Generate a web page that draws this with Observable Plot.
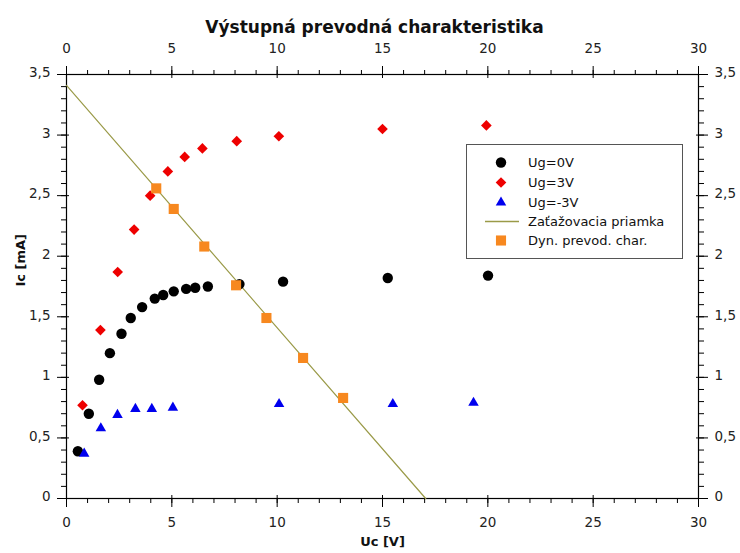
<!DOCTYPE html>
<html>
<head>
<meta charset="utf-8">
<script src="https://cdn.jsdelivr.net/npm/d3@7"></script>
<script src="https://cdn.jsdelivr.net/npm/@observablehq/plot@0.6"></script>
<style>
  html, body { margin: 0; padding: 0; background: #fff; }
  #wrap { position: relative; width: 740px; height: 553px; font-family: "DejaVu Sans", sans-serif; }
  #legend { position: absolute; left: 466px; top: 144px; width: 217px; height: 115px; box-sizing: border-box;
            border: 1px solid #555; background: #fff; }
</style>
</head>
<body>
<div id="wrap"></div>
<script>
// ---- data ----
const titleText = "Výstupná prevodná charakteristika";
const xLabel = "Uc [V]";
const yLabel = "Ic [mA]";

const ug0Uc = [0.54, 1.06, 1.55, 2.06, 2.61, 3.05, 3.59, 4.19, 4.59, 5.09, 5.68, 6.11, 6.71, 8.21, 10.28, 15.25, 20.01];
const ug0Ic = [0.39, 0.70, 0.98, 1.20, 1.36, 1.49, 1.58, 1.65, 1.68, 1.71, 1.73, 1.74, 1.75, 1.77, 1.79, 1.82, 1.84];

const ug3Uc = [0.76, 1.61, 2.43, 3.21, 3.97, 4.81, 5.61, 6.45, 8.08, 10.08, 15.0, 19.93];
const ug3Ic = [0.77, 1.39, 1.87, 2.22, 2.50, 2.70, 2.82, 2.89, 2.95, 2.99, 3.05, 3.08];

const ugm3Uc = [0.84, 1.63, 2.42, 3.27, 4.05, 5.05, 10.09, 15.49, 19.32];
const ugm3Ic = [0.37, 0.58, 0.69, 0.74, 0.74, 0.75, 0.78, 0.78, 0.79];

const loadUc = [0, 17.05];
const loadIc = [3.41, 0];

const dynUc = [4.26, 5.09, 6.54, 8.05, 9.49, 11.23, 13.13];
const dynIc = [2.56, 2.39, 2.08, 1.76, 1.49, 1.16, 0.83];

const seriesNames = ["Ug=0V", "Ug=3V", "Ug=-3V", "Zaťažovacia priamka", "Dyn. prevod. char."];

const xMajor = [0, 5, 10, 15, 20, 25, 30];
const xMinor = d3.range(0, 31);
const yMajor = [0, 0.5, 1, 1.5, 2, 2.5, 3, 3.5];
const yMinor = d3.range(0, 36).map(i => i / 10);

// ---- styles ----
const colBlack = "#000000", colRed = "#ee0000", colBlue = "#0000ee", colOlive = "#9a9a48", colOrange = "#f7881f";
const fmt = d => String(d).replace(".", ",");
const zip = (xs, ys) => xs.map((x, i) => ({uc: x, ic: ys[i]}));

const ug0 = zip(ug0Uc, ug0Ic), ug3 = zip(ug3Uc, ug3Ic), ugm3 = zip(ugm3Uc, ugm3Ic);
const load = zip(loadUc, loadIc), dyn = zip(dynUc, dynIc);

const labelFill = "#222";
const chart = Plot.plot({
  width: 740, height: 553,
  marginLeft: 66, marginRight: 42, marginTop: 74, marginBottom: 55,
  style: {fontFamily: "DejaVu Sans, sans-serif", fontSize: "13px", color: "#000", background: "#fff"},
  x: {domain: [0, 30], label: null},
  y: {domain: [0, 3.5], label: null},
  marks: [
    // minor ticks (outward)
    Plot.axisX(xMinor, {anchor: "bottom", tickSize: 5, fill: "none", label: null}),
    Plot.axisX(xMinor, {anchor: "top", tickSize: 5, fill: "none", label: null}),
    Plot.axisY(yMinor, {anchor: "left", tickSize: 5, fill: "none", label: null}),
    Plot.axisY(yMinor, {anchor: "right", tickSize: 5, fill: "none", label: null}),
    // major ticks (crossing)
    Plot.axisX(xMajor, {anchor: "bottom", tickSize: 12, dy: -3, fill: "none", label: null}),
    Plot.axisX(xMajor, {anchor: "top", tickSize: 12, dy: 3, fill: "none", label: null}),
    Plot.axisY(yMajor, {anchor: "left", tickSize: 12, dx: 3, fill: "none", label: null}),
    Plot.axisY(yMajor, {anchor: "right", tickSize: 12, dx: -3, fill: "none", label: null}),
    // tick labels
    Plot.axisX(xMajor, {anchor: "bottom", tickSize: 0, tickPadding: 19, tickFormat: fmt, fill: labelFill, fontSize: 13.5, label: null}),
    Plot.axisX(xMajor, {anchor: "top", tickSize: 0, tickPadding: 22, tickFormat: fmt, fill: labelFill, fontSize: 13.5, label: null}),
    Plot.axisY(yMajor, {anchor: "left", tickSize: 0, tickPadding: 16, dy: -1.5, tickFormat: fmt, fill: labelFill, fontSize: 13.5, label: null}),
    Plot.axisY(yMajor, {anchor: "right", tickSize: 0, tickPadding: 16, dy: -1.5, tickFormat: fmt, fill: labelFill, fontSize: 13.5, label: null}),
    Plot.frame({stroke: "#000", strokeWidth: 1.2}),
    // data
    Plot.line(load, {x: "uc", y: "ic", stroke: colOlive, strokeWidth: 1.2}),
    Plot.dot(ug0, {x: "uc", y: "ic", r: 5.2, fill: colBlack, symbol: "circle"}),
    Plot.dot(ug3, {x: "uc", y: "ic", r: 4.8, fill: colRed, symbol: "diamond2"}),
    Plot.dot(ugm3, {x: "uc", y: "ic", r: 3.9, fill: colBlue, symbol: "triangle"}),
    Plot.dot(dyn, {x: "uc", y: "ic", r: 5.7, fill: colOrange, symbol: "square"}),
    // titles
    Plot.text([titleText], {frameAnchor: "top", dx: -8, dy: -54, fontSize: 17, fontWeight: "bold", fill: "#111"}),
    Plot.text([xLabel], {frameAnchor: "bottom", dy: 47, fontSize: 13, fontWeight: "bold", fill: "#111"}),
    Plot.text([yLabel], {frameAnchor: "left", dx: -46, rotate: -90, fontSize: 13, fontWeight: "bold", fill: "#111"})
  ]
});

const wrap = document.getElementById("wrap");
wrap.appendChild(chart);

// ---- legend overlay ----
const legendDiv = document.createElement("div");
legendDiv.id = "legend";
wrap.appendChild(legendDiv);
const lsvg = d3.select(legendDiv).append("svg").attr("width", 215).attr("height", 113)
  .style("font-family", "DejaVu Sans, sans-serif").style("font-size", "13px");
const items = [
  {name: seriesNames[0], type: d3.symbolCircle, r: 5.2, color: colBlack},
  {name: seriesNames[1], type: d3.symbolDiamond2, r: 4.8, color: colRed},
  {name: seriesNames[2], type: d3.symbolTriangle, r: 3.9, color: colBlue},
  {name: seriesNames[3], line: true, color: colOlive},
  {name: seriesNames[4], type: d3.symbolSquare, r: 5.7, color: colOrange}
];
const rowY = [17.5, 37.5, 57.5, 76.5, 95.5];
items.forEach((it, i) => {
  const g = lsvg.append("g").attr("transform", `translate(0,${rowY[i]})`);
  if (it.line) {
    g.append("line").attr("x1", 18).attr("x2", 52).attr("y1", 0).attr("y2", 0)
      .attr("stroke", it.color).attr("stroke-width", 1.3);
  } else {
    g.append("path").attr("transform", "translate(34,0)")
      .attr("d", d3.symbol(it.type, Math.PI * it.r * it.r)()).attr("fill", it.color);
  }
  g.append("text").attr("x", 61).attr("y", 0).attr("dy", "0.36em").attr("fill", "#111").text(it.name);
});
</script>
</body>
</html>
